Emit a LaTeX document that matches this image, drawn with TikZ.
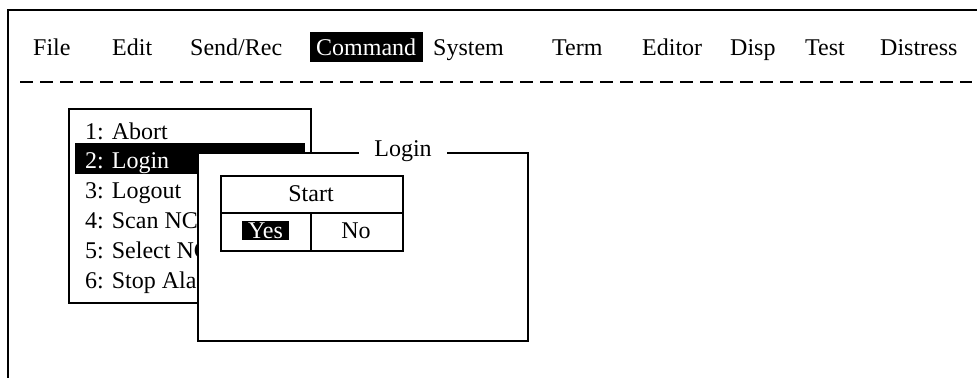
\documentclass[tikz,border=0pt]{standalone}
\usepackage{fontspec}
\setmainfont{Liberation Serif}
\begin{document}
\begin{tikzpicture}[x=1pt,y=-1pt,
  txt/.style={font=\fontsize{24}{28}\selectfont, inner sep=0pt},
  bar/.style={txt, anchor=base west},
  hl/.style={fill=black, text=white},
  frame/.style={line width=1.6pt},
  dashline/.style={line width=1.6pt, dash pattern=on 13pt off 7pt}]
\useasboundingbox (0,0) rectangle (977,378);
% outer frame (top and left)
\coordinate (ftr) at (977,10);
\coordinate (ftl) at (8,10);
\coordinate (fbl) at (8,378);
\draw[line width=2.2pt] (ftr) -- (ftl) -- (fbl);
% menu bar
\node[bar] (file) at (33,55) {File};
\node[bar] (edit) at (112,55) {Edit};
\node[bar] (send) at (190,55) {Send/Rec};
\node[txt, hl, minimum width=113pt, minimum height=30pt, anchor=north west] (cmdbox) at (310,32) {};
\node[bar, text=white] (cmd) at (316,55) {Command};
\node[bar] (sys) at (433,55) {System};
\node[bar] (term) at (552,55) {Term};
\node[bar] (editor) at (642,55) {Editor};
\node[bar] (disp) at (730,55) {Disp};
\node[bar] (test) at (805,55) {Test};
\node[bar] (distress) at (880,55) {Distress};
\coordinate (dl) at (20,82);
\coordinate (dr) at (972,82);
\draw[dashline] (dl) -- (dr);
% command menu
\node[draw, frame, minimum width=242pt, minimum height=194pt, anchor=north west, inner sep=0pt] (menu) at (68,108) {};
\node[hl, minimum width=230pt, minimum height=31pt, anchor=north west, inner sep=0pt] (selbar) at (75,143) {};
\begin{scope}
\clip (60,100) rectangle (197,310);
\node[bar] (m1) at (85,139) {1: Abort};
\node[bar, text=white] (m2) at (85,168) {2: Login};
\node[bar] (m3) at (85,198) {3: Logout};
\node[bar] (m4) at (85,228) {4: Scan NCS};
\node[bar] (m5) at (85,258) {5: Select NCS};
\node[bar] (m6) at (85,288) {6: Stop Alarm};
\end{scope}
% login dialog
\node[draw, frame, fill=white, minimum width=330pt, minimum height=188pt, anchor=north west, inner sep=0pt] (dlg) at (197,152) {};
\node[txt, fill=white, inner xsep=15pt, inner ysep=2pt] (title) at (403,151) {Login};
% start box
\node[draw, frame, minimum width=182pt, minimum height=75pt, anchor=north west, inner sep=0pt] (startbox) at (220,175) {};
\coordinate (hl1) at (220,213);
\coordinate (hl2) at (402,213);
\draw[frame] (hl1) -- (hl2);
\coordinate (vl1) at (311,213);
\coordinate (vl2) at (311,250);
\draw[frame] (vl1) -- (vl2);
\node[txt] (start) at (311,194) {Start};
\node[hl, minimum width=47pt, minimum height=19pt, anchor=north west, inner sep=0pt] (yesbox) at (242,221) {};
\node[txt, text=white] (yes) at (265.5,231) {Yes};
\node[txt] (no) at (356,231) {No};
\end{tikzpicture}
\end{document}
